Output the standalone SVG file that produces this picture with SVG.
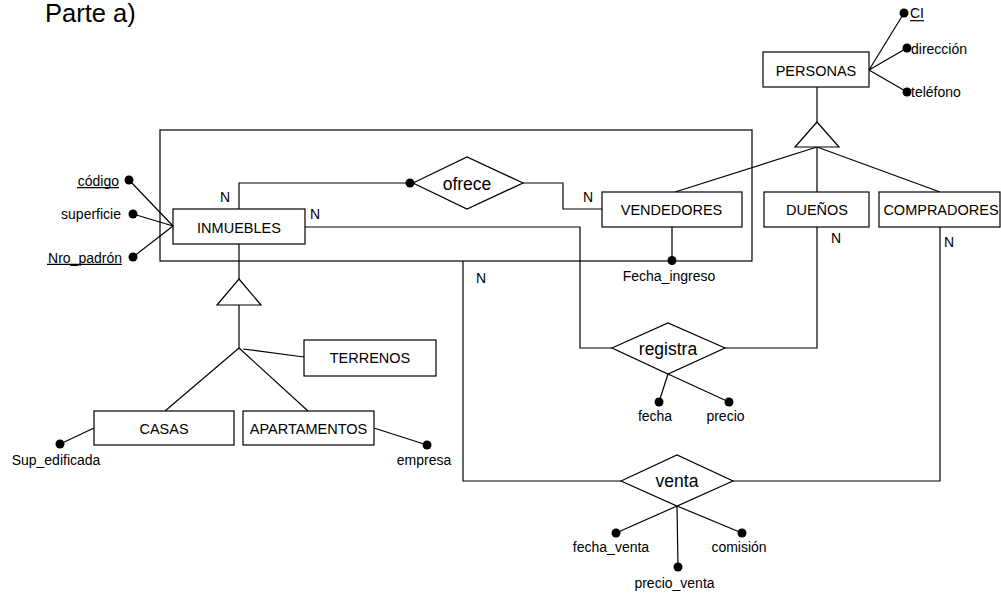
<svg xmlns="http://www.w3.org/2000/svg" width="1001" height="596" viewBox="0 0 1001 596">
<style>
text{font-family:"Liberation Sans",Arial,sans-serif;fill:#000}
.box{fill:#fff;stroke:#000;stroke-width:1.2}
.ln{fill:none;stroke:#000;stroke-width:1.2}
.lbl{font-size:14.5px;text-anchor:middle}
.att{font-size:14px}
.rel{font-size:17.5px;text-anchor:middle}
.dot{fill:#000}
</style>
<rect width="1001" height="596" fill="#fff"/>
<text x="45" y="22" font-size="25.5">Parte a)</text>

<g id="connectors">
  <rect class="ln" x="160" y="130" width="592" height="131"/>
  <!-- PERSONAS attributes -->
  <polyline class="ln" points="904,13 869,70 907,48"/>
  <line class="ln" x1="869" y1="70" x2="907" y2="92"/>
  <!-- PERSONAS ISA -->
  <line class="ln" x1="817" y1="87" x2="817" y2="122"/>
  <line class="ln" x1="817" y1="147" x2="675" y2="192"/>
  <line class="ln" x1="817" y1="147" x2="817" y2="192"/>
  <line class="ln" x1="817" y1="147" x2="940" y2="192"/>
  <!-- INMUEBLES attributes -->
  <line class="ln" x1="129" y1="180" x2="173" y2="226"/>
  <line class="ln" x1="133" y1="214" x2="173" y2="226"/>
  <line class="ln" x1="133" y1="257" x2="173" y2="226"/>
  <!-- ofrece -->
  <polyline class="ln" points="239,209 239,183 410,183"/>
  <polyline class="ln" points="523,183 563,183 563,209 602,209"/>
  <line class="ln" x1="672" y1="227" x2="672" y2="261"/>
  <!-- registra -->
  <polyline class="ln" points="305,227 580,227 580,348 612,348"/>
  <polyline class="ln" points="725,348 817,348 817,227"/>
  <line class="ln" x1="668" y1="374" x2="659" y2="402"/>
  <line class="ln" x1="668" y1="374" x2="729" y2="402"/>
  <!-- venta -->
  <polyline class="ln" points="463,261 463,481 621,481"/>
  <polyline class="ln" points="733,481 940,481 940,227"/>
  <line class="ln" x1="677" y1="506" x2="616" y2="533"/>
  <line class="ln" x1="677" y1="506" x2="678" y2="567"/>
  <line class="ln" x1="677" y1="506" x2="742" y2="533"/>
  <!-- INMUEBLES ISA -->
  <line class="ln" x1="239" y1="244" x2="239" y2="279"/>
  <line class="ln" x1="239" y1="305" x2="239" y2="348"/>
  <line class="ln" x1="243" y1="349" x2="304" y2="357"/>
  <line class="ln" x1="239" y1="348" x2="165" y2="411"/>
  <line class="ln" x1="239" y1="348" x2="308" y2="411"/>
  <line class="ln" x1="94" y1="428" x2="60" y2="444"/>
  <line class="ln" x1="374" y1="428" x2="427" y2="445"/>
</g>

<g id="isa-personas"><polygon class="box" points="817,122 839,147 795,147"/></g>
<g id="isa-inmuebles"><polygon class="box" points="239,279 261,305 217,305"/></g>

<g id="personas">
  <rect class="box" x="763" y="52" width="106" height="35"/>
  <text class="lbl" x="816" y="75.5">PERSONAS</text>
</g>
<g id="attr-ci"><circle class="dot" cx="904" cy="13" r="4.5"/><text class="att" x="910" y="18.3">CI</text><line class="ln" x1="910" y1="20.7" x2="924" y2="20.7"/></g>
<g id="attr-direccion"><circle class="dot" cx="907" cy="48" r="4.5"/><text class="att" x="911" y="54">dirección</text></g>
<g id="attr-telefono"><circle class="dot" cx="907" cy="92" r="4.5"/><text class="att" x="911" y="96.5">teléfono</text></g>

<g id="inmuebles">
  <rect class="box" x="173" y="209" width="132" height="35"/>
  <text class="lbl" x="239" y="232.5">INMUEBLES</text>
</g>
<g id="attr-codigo"><circle class="dot" cx="129" cy="180" r="4.5"/><text class="att" x="119" y="185.5" text-anchor="end">código</text><line class="ln" x1="77" y1="187.7" x2="119" y2="187.7"/></g>
<g id="attr-superficie"><circle class="dot" cx="133" cy="214" r="4.5"/><text class="att" x="121" y="219" text-anchor="end">superficie</text></g>
<g id="attr-nro"><circle class="dot" cx="133" cy="257" r="4.5"/><text class="att" x="122" y="262.5" text-anchor="end">Nro_padrón</text><line class="ln" x1="47" y1="264.3" x2="122" y2="264.3"/></g>

<g id="ofrece">
  <polygon class="box" points="413,183 467,157 523,183 467,209"/>
  <text class="rel" x="467" y="190">ofrece</text>
  <circle class="dot" cx="410" cy="183" r="4.5"/>
</g>

<g id="vendedores">
  <rect class="box" x="602" y="192" width="140" height="35"/>
  <text class="lbl" x="671.5" y="215">VENDEDORES</text>
</g>
<g id="attr-fecha-ingreso"><circle class="dot" cx="672" cy="260.5" r="4.5"/><text class="att" x="669" y="281" text-anchor="middle">Fecha_ingreso</text></g>

<g id="duenos">
  <rect class="box" x="764" y="192" width="105" height="35"/>
  <text class="lbl" x="817" y="215">DUEÑOS</text>
</g>
<g id="compradores">
  <rect class="box" x="879" y="192" width="121" height="35"/>
  <text class="lbl" x="941" y="215">COMPRADORES</text>
</g>

<g id="registra">
  <polygon class="box" points="612,348 668,323 725,348 668,374"/>
  <text class="rel" x="668" y="355">registra</text>
</g>
<g id="attr-fecha"><circle class="dot" cx="659" cy="402" r="4.5"/><text class="att" x="655" y="420.5" text-anchor="middle">fecha</text></g>
<g id="attr-precio"><circle class="dot" cx="729" cy="402" r="4.5"/><text class="att" x="725.5" y="420.5" text-anchor="middle">precio</text></g>

<g id="venta">
  <polygon class="box" points="621,481 677,455 733,481 677,506"/>
  <text class="rel" x="677" y="486.5">venta</text>
</g>
<g id="attr-fecha-venta"><circle class="dot" cx="616" cy="533" r="4.5"/><text class="att" x="611" y="551.7" text-anchor="middle">fecha_venta</text></g>
<g id="attr-precio-venta"><circle class="dot" cx="678" cy="567" r="4.5"/><text class="att" x="674.5" y="588" text-anchor="middle">precio_venta</text></g>
<g id="attr-comision"><circle class="dot" cx="742" cy="533" r="4.5"/><text class="att" x="739" y="551.7" text-anchor="middle">comisión</text></g>

<g id="terrenos">
  <rect class="box" x="304" y="340" width="132" height="36"/>
  <text class="lbl" x="370" y="363">TERRENOS</text>
</g>
<g id="casas">
  <rect class="box" x="94" y="411" width="140" height="34"/>
  <text class="lbl" x="164" y="433.5">CASAS</text>
</g>
<g id="apartamentos">
  <rect class="box" x="243" y="411" width="131" height="34"/>
  <text class="lbl" x="308.5" y="433.5">APARTAMENTOS</text>
</g>
<g id="attr-sup"><circle class="dot" cx="60" cy="444" r="4.5"/><text class="att" x="56" y="465" text-anchor="middle">Sup_edificada</text></g>
<g id="attr-empresa"><circle class="dot" cx="427" cy="445" r="4.5"/><text class="att" x="424" y="465" text-anchor="middle">empresa</text></g>

<g id="cardinalities" class="att">
  <text x="220" y="201.7">N</text>
  <text x="310" y="218.7">N</text>
  <text x="583" y="201.7">N</text>
  <text x="476" y="283.3">N</text>
  <text x="831" y="243.3">N</text>
  <text x="944" y="246.7">N</text>
</g>
</svg>
